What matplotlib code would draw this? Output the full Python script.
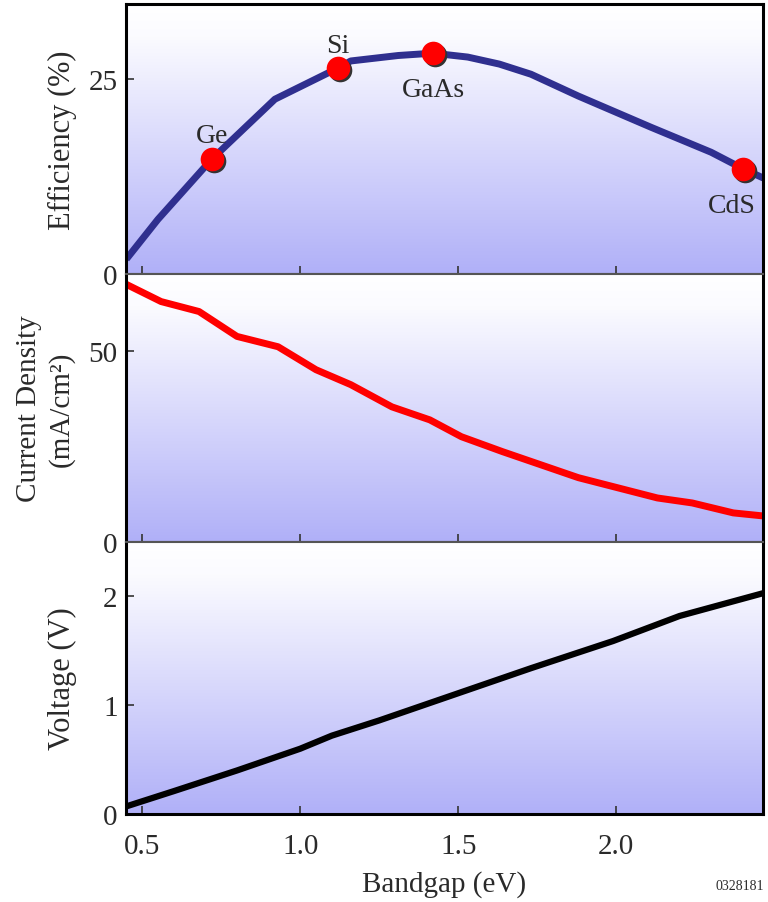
"""
Solar cell efficiency, current density and voltage versus bandgap.
Three stacked panels sharing the bandgap axis.
"""

import matplotlib
import matplotlib.pyplot as plt
import numpy as np
from matplotlib.colors import LinearSegmentedColormap
from matplotlib.transforms import offset_copy

matplotlib.use("Agg")

# Efficiency curve (%)
eff_gap = [0.45, 0.55, 0.72, 0.92, 1.12, 1.16, 1.31, 1.42, 1.53, 1.63, 1.73, 1.88, 2.11, 2.30, 2.40, 2.465]
eff_val = [1.9, 7.0, 14.7, 22.4, 26.4, 27.3, 28.0, 28.3, 27.8, 26.9, 25.6, 22.8, 18.8, 15.6, 13.5, 12.3]

# Named materials on the efficiency curve
materials = ["Ge", "Si", "GaAs", "CdS"]
mat_gap = [0.72, 1.12, 1.42, 2.40]
mat_eff = [14.7, 26.4, 28.3, 13.5]

# Current density (mA/cm^2)
jsc_gap = [0.45, 0.56, 0.68, 0.80, 0.93, 1.05, 1.16, 1.29, 1.41, 1.51, 1.64, 1.88, 2.13, 2.24, 2.37, 2.465]
jsc_val = [67.3, 62.8, 60.2, 53.7, 51.0, 45.0, 41.1, 35.3, 31.9, 27.5, 23.6, 16.8, 11.5, 10.2, 7.6, 6.8]

# Open-circuit voltage (V)
voc_gap = [0.45, 0.60, 0.80, 1.00, 1.10, 1.25, 1.51, 1.73, 1.99, 2.20, 2.465]
voc_val = [0.07, 0.21, 0.40, 0.60, 0.72, 0.86, 1.12, 1.34, 1.59, 1.82, 2.03]

plt.rcParams["font.family"] = ["Liberation Serif", "DejaVu Serif"]
TEXT = "#2a2a2a"

fig = plt.figure(figsize=(7.68, 9.03), dpi=100)
gs = fig.add_gridspec(3, 1, height_ratios=[270, 268, 272], hspace=0,
                      left=126 / 768, right=763 / 768, top=1 - 5 / 903, bottom=1 - 815 / 903)
ax_eff = fig.add_subplot(gs[0])
ax_jsc = fig.add_subplot(gs[1], sharex=ax_eff)
ax_voc = fig.add_subplot(gs[2], sharex=ax_eff)
axes = [ax_eff, ax_jsc, ax_voc]

# white at the top fading to lavender at the bottom of each panel
grad = LinearSegmentedColormap.from_list(
    "bg", [(0.0, "#ffffff"), (0.12, "#fbfbff"), (1.0, "#b0b0f8")])
ramp = np.linspace(0, 1, 256).reshape(-1, 1)
for ax in axes:
    ax.imshow(ramp, cmap=grad, aspect="auto", extent=[0, 1, 0, 1], origin="upper",
              transform=ax.transAxes, zorder=0)

ax_eff.plot(eff_gap, eff_val, color="#2f2f8f", lw=5, solid_capstyle="butt", zorder=2)
shadow = offset_copy(ax_eff.transData, fig=fig, x=2, y=-2, units="dots")
ax_eff.plot(mat_gap, mat_eff, "o", ms=17, color="#333333", mec="none", transform=shadow, zorder=3)
ax_eff.plot(mat_gap, mat_eff, "o", ms=17, color="#ff0000", mec="none", zorder=4)

label_offsets = {"Ge": (0, 24), "Si": (0, 22), "GaAs": (0, -36), "CdS": (-11, -37)}
for name, gx, gy in zip(materials, mat_gap, mat_eff):
    ax_eff.annotate(name, (gx, gy), xytext=label_offsets[name], textcoords="offset pixels",
                    ha="center", va="center", fontsize=20, color=TEXT, zorder=5)

ax_jsc.plot(jsc_gap, jsc_val, color="#ff0000", lw=5, zorder=2)
ax_voc.plot(voc_gap, voc_val, color="#000000", lw=4.5, zorder=2)

ax_eff.set_ylim(0, 34.6)
ax_jsc.set_ylim(0, 70)
ax_voc.set_ylim(0, 2.5)
ax_voc.set_xlim(0.449, 2.464)

ax_eff.set_yticks([0, 25])
ax_jsc.set_yticks([0, 50])
ax_voc.set_yticks([0, 1, 2])
ax_voc.set_xticks([0.5, 1.0, 1.5, 2.0])
ax_voc.set_xticklabels(["0.5", "1.0", "1.5", "2.0"])

for i, ax in enumerate(axes):
    ax.tick_params(axis="both", direction="in", length=6, width=1.2, colors="#333333",
                   labelcolor=TEXT, labelsize=21)
    ax.tick_params(axis="y", pad=6)
    ax.tick_params(axis="x", pad=14)
    for side in ("left", "right"):
        ax.spines[side].set_linewidth(2.2)
        ax.spines[side].set_color("black")
    ax.spines["top"].set_linewidth(2.2 if i == 0 else 1.5)
    ax.spines["top"].set_color("black" if i == 0 else "#555555")
    ax.spines["bottom"].set_linewidth(2.2 if i == 2 else 1.5)
    ax.spines["bottom"].set_color("black" if i == 2 else "#555555")
    if i < 2:
        ax.tick_params(axis="x", labelbottom=False)

ax_eff.set_ylabel("Efficiency (%)", fontsize=22, color=TEXT, va="center")
ax_jsc.set_ylabel("Current Density\n(mA/cm²)", fontsize=21, color=TEXT, va="center",
                  linespacing=1.3)
ax_voc.set_ylabel("Voltage (V)", fontsize=22, color=TEXT, va="center")
ax_eff.yaxis.set_label_coords(-0.1, 0.5)
ax_jsc.yaxis.set_label_coords(-0.127, 0.5)
ax_voc.yaxis.set_label_coords(-0.1, 0.5)

ax_voc.set_xlabel("Bandgap (eV)", fontsize=21, color=TEXT, va="center")
ax_voc.xaxis.set_label_coords(0.5, -70 / 272)
fig.text(764 / 768, 1 - 887 / 903, "0328181", ha="right", va="center", fontsize=10, color=TEXT)

fig.savefig("out.png", dpi=100)
plt.close(fig)
